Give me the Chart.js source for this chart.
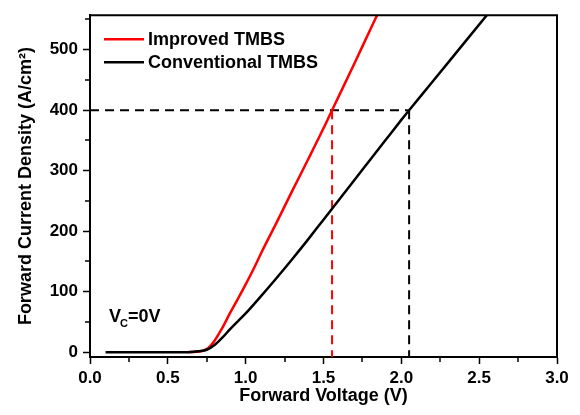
<!DOCTYPE html>
<html><head><meta charset="utf-8">
<script src="https://cdn.jsdelivr.net/npm/chart.js@4/dist/chart.umd.min.js"></script>
<style>html,body{margin:0;padding:0;background:#fff}</style>
</head><body>
<canvas id="c" width="580" height="415"></canvas>
<script>
// ---- data ----
const improvedV = [0.63,0.68,0.72,0.75,0.775,0.80,0.85,0.90,0.95,1.00,1.05,1.10,1.20,1.30,1.40,1.50,1.555,1.60,1.70,1.80,1.85];
const improvedJ = [0,0.5,2,5,11,19,40,65,88,112,137,164,215,267,318,370,400,424,478,533,560];
const conventionalV = [0.10,0.30,0.50,0.60,0.65,0.70,0.75,0.80,0.85,0.90,0.95,1.00,1.10,1.20,1.30,1.40,1.50,1.60,1.70,1.80,1.90,2.00,2.05,2.20,2.40,2.60];
const conventionalJ = [0,0,0,0,0.4,1.5,4,12,24,38,51,64,93,123,154,186,219,252,285,318,351,384,400,447,510,573];
const refJ = 400;
const improvedVatRef = 1.555;
const conventionalVatRef = 2.05;
const xTicks = [0,0.5,1.0,1.5,2.0,2.5,3.0];
const xTickLabels = ['0.0','0.5','1.0','1.5','2.0','2.5','3.0'];
const xMinorTicks = [0.25,0.75,1.25,1.75,2.25,2.75];
const yTicks = [0,100,200,300,400,500];
const yTickLabels = ['0','100','200','300','400','500'];
const yMinorTicks = [50,150,250,350,450,550];
const seriesNames = ['Improved TMBS','Conventional TMBS'];

const X_MIN = 0, X_MAX = 3.0, Y_MIN = -8, Y_MAX = 557;
const FONT = "'Liberation Sans', Arial, Helvetica, sans-serif";
const pts = (xs, ys) => xs.map((x, i) => ({x, y: ys[i]}));

const framePlugin = {
  id: 'frame',
  afterDraw(chart) {
    const {ctx, chartArea: a, scales: {x, y}} = chart;
    ctx.save();
    ctx.strokeStyle = '#000';
    ctx.lineWidth = 2;
    ctx.beginPath();
    ctx.moveTo(a.left, a.top); ctx.lineTo(a.right, a.top); ctx.lineTo(a.right, a.bottom);
    ctx.stroke();
    // minor ticks
    ctx.lineWidth = 1.5;
    ctx.beginPath();
    xMinorTicks.forEach(v => { const px = Math.round(x.getPixelForValue(v)); ctx.moveTo(px, a.bottom); ctx.lineTo(px, a.bottom + 5); });
    yMinorTicks.forEach(v => { const py = Math.round(y.getPixelForValue(v)); ctx.moveTo(a.left, py); ctx.lineTo(a.left - 5, py); });
    ctx.stroke();
    // legend
    const colors = ['#ff0000', '#000000'];
    ctx.font = 'bold 18px ' + FONT;
    ctx.textBaseline = 'middle';
    ctx.fillStyle = '#000';
    seriesNames.forEach((n, i) => {
      const ly = a.top + 24 + i * 23;
      ctx.strokeStyle = colors[i];
      ctx.lineWidth = 2.5;
      ctx.beginPath(); ctx.moveTo(a.left + 14, ly); ctx.lineTo(a.left + 54, ly); ctx.stroke();
      ctx.fillText(n, a.left + 58, ly + 1);
    });
    // V_C = 0V label
    ctx.font = 'bold 18px ' + FONT;
    ctx.textBaseline = 'alphabetic';
    const bx = a.left + 19, by = a.top + 307;
    ctx.fillText('V', bx, by);
    const vw = ctx.measureText('V').width;
    ctx.font = 'bold 11px ' + FONT;
    ctx.fillText('C', bx + vw - 1, by + 5);
    const cw = ctx.measureText('C').width;
    ctx.font = 'bold 18px ' + FONT;
    ctx.fillText('=0V', bx + vw + cw - 1, by);
    ctx.restore();
  }
};

new Chart(document.getElementById('c'), {
  type: 'line',
  data: {
    datasets: [
      {label: seriesNames[0], data: pts(improvedV, improvedJ), borderColor: '#ff0000', borderWidth: 2.5, pointRadius: 0, cubicInterpolationMode: 'monotone', order: 2},
      {label: seriesNames[1], data: pts(conventionalV, conventionalJ), borderColor: '#000000', borderWidth: 2.5, pointRadius: 0, cubicInterpolationMode: 'monotone', order: 1},
      {label: 'h', data: [{x: X_MIN, y: refJ}, {x: conventionalVatRef, y: refJ}], borderColor: '#000', borderWidth: 2, borderDash: [9, 6], pointRadius: 0, order: 3},
      {label: 'vr', data: [{x: improvedVatRef, y: refJ}, {x: improvedVatRef, y: Y_MIN}], borderColor: '#ff0000', borderWidth: 2, borderDash: [9, 6], pointRadius: 0, order: 3},
      {label: 'vb', data: [{x: conventionalVatRef, y: refJ}, {x: conventionalVatRef, y: Y_MIN}], borderColor: '#000', borderWidth: 2, borderDash: [9, 6], pointRadius: 0, order: 3}
    ]
  },
  options: {
    responsive: false,
    animation: false,
    layout: {padding: {left: 0, top: 11, right: 23, bottom: 0}},
    plugins: {legend: {display: false}, tooltip: {enabled: false}},
    scales: {
      x: {
        type: 'linear', min: X_MIN, max: X_MAX,
        afterBuildTicks: s => { s.ticks = xTicks.map(v => ({value: v})); },
        afterFit: s => { s.height = 58; },
        ticks: {callback: v => xTickLabels[xTicks.indexOf(v)], font: {family: FONT, size: 17, weight: 'bold'}, color: '#000', padding: 4, autoSkip: false, maxRotation: 0},
        grid: {drawOnChartArea: false, tickLength: 7, tickWidth: 1.5, tickColor: '#000'},
        border: {color: '#000', width: 2},
        title: {display: true, text: 'Forward Voltage (V)', font: {family: FONT, size: 18, weight: 'bold'}, color: '#000', padding: {top: 0, bottom: 8}}
      },
      y: {
        type: 'linear', min: Y_MIN, max: Y_MAX,
        afterBuildTicks: s => { s.ticks = yTicks.map(v => ({value: v})); },
        afterFit: s => { s.width = 90; },
        ticks: {callback: v => yTickLabels[yTicks.indexOf(v)], font: {family: FONT, size: 17, weight: 'bold'}, color: '#000', padding: 5, autoSkip: false},
        grid: {drawOnChartArea: false, tickLength: 7, tickWidth: 1.5, tickColor: '#000'},
        border: {color: '#000', width: 2},
        title: {display: true, text: 'Forward Current Density (A/cm²)', font: {family: FONT, size: 18, weight: 'bold'}, color: '#000', padding: {top: 15, bottom: 0}}
      }
    }
  },
  plugins: [framePlugin]
});
</script>
</body></html>
